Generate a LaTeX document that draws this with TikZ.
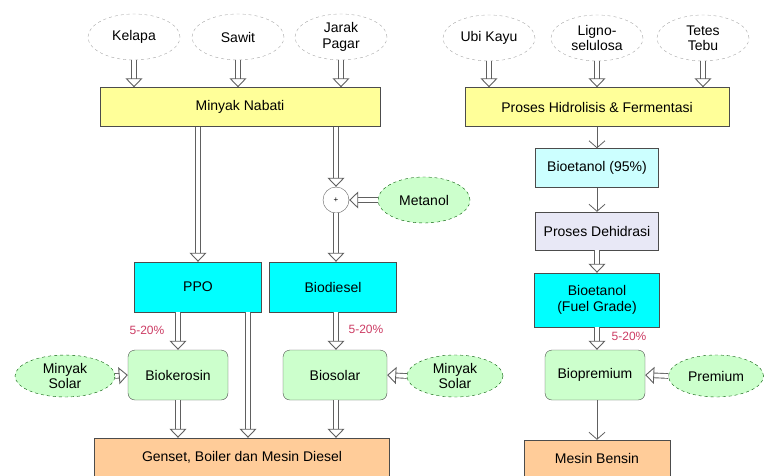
\documentclass[tikz,border=0pt]{standalone}
\usepackage{fontspec}
\setmainfont{Liberation Sans}
\usepackage{xcolor}
\usetikzlibrary{arrows.meta,positioning,shapes.geometric}

\definecolor{nabati}{RGB}{255,255,153}
\definecolor{aqua}{RGB}{0,255,255}
\definecolor{aqualt}{RGB}{204,255,255}
\definecolor{lavend}{RGB}{232,232,246}
\definecolor{mint}{RGB}{204,255,204}
\definecolor{peach}{RGB}{255,204,153}
\definecolor{pctred}{RGB}{204,60,100}

\begin{document}
\begin{tikzpicture}[
    x=1pt, y=-1pt,
    font=\fontsize{14}{15.5}\selectfont,
    src/.style={ellipse, draw=gray!70, dashed, fill=white, minimum width=92pt,
                minimum height=46pt, inner sep=1pt, align=center},
    addin/.style={src, draw=green!35!black, fill=mint},
    box/.style={draw=gray!60!black, fill=#1, align=center, inner sep=2pt},
    blend/.style={draw=gray!60!black, fill=mint, rounded corners=7pt, align=center,
                  minimum width=100pt, minimum height=50pt},
    flow/.style={draw=gray!75!black, double=white, double distance=3.8pt, line width=0.9pt,
                 -{Triangle[open, length=9pt, width=17pt]}},
    slim/.style={draw=gray!75!black, line width=0.8pt,
                 -{Straight Barb[length=7pt, width=16pt]}},
    pct/.style={text=pctred, font=\fontsize{12}{13}\selectfont},
  ]
    \useasboundingbox (0,0) rectangle (764,475);

    % --- raw materials -----------------------------------------------------
    \node[src] (kelapa) at (134,37) {Kelapa};
    \node[src] (sawit)  at (238,37) {Sawit};
    \node[src] (jarak)  at (341,37) {Jarak\\Pagar};
    \node[src] (ubi)    at (489,38) {Ubi Kayu};
    \node[src] (ligno)  at (597,38) {Ligno-\\selulosa};
    \node[src] (tetes)  at (703,38) {Tetes\\Tebu};

    % --- first processing --------------------------------------------------
    \node[box=nabati, minimum width=280pt, minimum height=39pt] (nabati) at (240,107)
      {Minyak Nabati};
    \node[box=nabati, minimum width=264pt, minimum height=39pt] (hidro) at (597,107)
      {Proses Hidrolisis \& Fermentasi};

    % --- oil branch --------------------------------------------------------
    \node[circle, draw=gray!75!black, fill=white, minimum size=26pt, inner sep=0pt,
          font=\fontsize{8}{9}\selectfont] (mix) at (336,200) {+};
    \node[addin] (metanol) at (424,200) {Metanol};
    \node[box=aqua, minimum width=127pt, minimum height=50pt] (ppo) at (198,287) {PPO};
    \node[box=aqua, minimum width=127pt, minimum height=50pt] (biodsl) at (333,287) {Biodiesel};
    \node[blend] (bioker) at (178,375) {Biokerosin};
    \node[blend, minimum width=104pt] (biosol) at (335,375) {Biosolar};
    \node[addin, minimum width=100pt, minimum height=42pt] (solara) at (65,376) {Minyak\\Solar};
    \node[addin, minimum width=96pt, minimum height=42pt] (solarb) at (455,376) {Minyak\\Solar};
    \node[box=peach, minimum width=295pt, minimum height=38pt] (genset) at (242,457)
      {Genset, Boiler dan Mesin Diesel};

    % --- ethanol branch ----------------------------------------------------
    \node[box=aqualt, minimum width=123pt, minimum height=39pt] (etan) at (597,168)
      {Bioetanol (95\%)};
    \node[box=lavend, minimum width=123pt, minimum height=38pt] (dehid) at (597,231)
      {Proses Dehidrasi};
    \node[box=aqua, minimum width=125pt, minimum height=54pt] (fuel) at (597,300)
      {Bioetanol\\(Fuel Grade)};
    \node[blend] (biopre) at (595,375) {Biopremium};
    \node[addin, minimum width=95pt, minimum height=42pt] (premium) at (716,376) {Premium};
    \node[box=peach, minimum width=146pt, minimum height=36pt] (bensin) at (597,458)
      {Mesin Bensin};

    % --- arrows ------------------------------------------------------------
    \foreach \s/\t in {kelapa/nabati, sawit/nabati, jarak/nabati,
                       ubi/hidro, ligno/hidro, tetes/hidro}
      \draw[flow] (\s.south) -- (\s.south |- \t.north);

    \draw[flow] (nabati.south -| ppo) -- (ppo.north);
    \draw[flow] (nabati.south -| mix) -- (mix.north);
    \draw[flow] (mix.south) -- (mix.south |- biodsl.north);
    \draw[flow] (metanol.west) -- (mix.east);

    \draw[flow] (ppo.south -| bioker) -- (bioker.north);
    \draw[flow] (ppo.south -| 248,0) -- (genset.north -| 248,0);
    \draw[flow] (biodsl.south -| mix) -- (biosol.north -| mix);
    \draw[flow] (solara.east) -- (bioker.west);
    \draw[flow] (solarb.west) -- (biosol.east);
    \draw[flow] (bioker.south) -- (genset.north -| bioker);
    \draw[flow] (biosol.south -| mix) -- (genset.north -| mix);

    \draw[slim] (hidro.south) -- (etan.north);
    \draw[slim] (etan.south) -- (dehid.north);
    \draw[flow] (dehid.south) -- (fuel.north);
    \draw[flow] (fuel.south) -- (fuel.south |- biopre.north);
    \draw[flow] (premium.west) -- (biopre.east);
    \draw[slim] (biopre.south -| bensin) -- (bensin.north);

    % --- blend shares ------------------------------------------------------
    \node[pct] (pa) at (147,330) {5-20\%};
    \node[pct] (pb) at (366,329) {5-20\%};
    \node[pct] (pc) at (629,336) {5-20\%};
  \end{tikzpicture}
\end{document}
